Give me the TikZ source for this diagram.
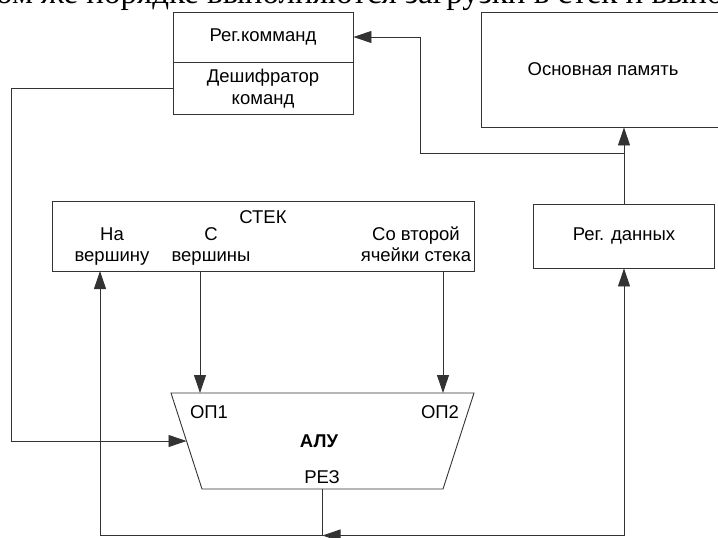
\documentclass[tikz,border=0pt]{standalone}
\usepackage{fontspec}
\setmainfont{Liberation Sans}
\newfontfamily\bodyserif{Liberation Serif}
\usetikzlibrary{arrows.meta,calc}

\begin{document}
\begin{tikzpicture}[x=1pt,y=-1pt,
    wire/.style={draw=black!80,line width=0.9pt},
    arr/.style={wire,-{Triangle[length=18pt,width=12pt]}},
    blk/.style={draw=black!80,line width=0.9pt,rectangle,inner sep=0pt,align=center},
    lbl/.style={inner sep=0pt,align=center},
    every node/.style={font=\fontsize{18.5}{21.5}\selectfont}]
\useasboundingbox (0,0) rectangle (718,538);
\clip (0,0) rectangle (718,538);

% running text of the page above the figure
\node[anchor=base west,inner sep=0pt,font=\bodyserif\fontsize{33}{38}\selectfont]
  (pagetext) at (-4,3) {ом же порядке выполняются загрузки в стек и выпо};

% command register and decoder
\node[blk,minimum width=180,minimum height=50] (regcmd) at (263,37) {Рег.комманд};
\node[blk,minimum width=180,minimum height=52] (decoder) at (263,88) {};
\node[lbl] (decodertext) at (263,89) {\strut Дешифратор\\команд\strut};

% main memory and data register
\node[blk,minimum width=244,minimum height=115] (mem) at (603,69.5) {Основная память};
\node[blk,minimum width=181,minimum height=64] (regdata) at (624,236) {Рег. данных};

% stack
\node[blk,minimum width=422,minimum height=70] (stack) at (263,236) {};
\node[lbl] (stacktitle) at (263,217) {СТЕК};
\node[lbl] (totop) at (112,246.5) {\strut На\\вершину\strut};
\node[lbl] (fromtop) at (211,246.5) {\strut С\\вершины\strut};
\node[lbl] (second) at (416,246.5) {\strut Со второй\\ячейки стека\strut};
\coordinate (stkin)  at (100,271);
\coordinate (stkout1) at (200,271);
\coordinate (stkout2) at (443,271);

% ALU: inverted trapezium
\coordinate (alutl) at (171,393);
\coordinate (alutr) at (474,393);
\coordinate (alubr) at (443,489);
\coordinate (alubl) at (202,489);
\draw[wire,line join=miter] (alutl) -- (alutr) -- (alubr) -- (alubl) -- cycle;
\coordinate (aluin)  at ($(alutl)!0.5!(alubl)$);
\coordinate (aluout) at (322.5,489);
\node[lbl,font=\bfseries\fontsize{18.5}{22}\selectfont] (alu) at (319,441) {АЛУ};
\node[lbl] (op1) at (209,412) {ОП1};
\node[lbl] (op2) at (440,412) {ОП2};
\node[lbl] (res) at (322,477) {РЕЗ};

% bus corners
\coordinate (junc) at (aluout |- 0,535.5);
\coordinate (busl) at (stkin |- 0,535.5);
\coordinate (busr) at (regdata.south |- 0,535.5);
\coordinate (tap)  at (regdata.north |- 0,153);
\coordinate (bend) at (420,153);

% connectors
\draw[arr] (regdata.north) -- (regdata.north |- mem.south);
\draw[arr] (tap) -- (bend) |- (regcmd.east);
\draw[arr] (decoder.west) -- ++(-161,0) |- (aluin);
\draw[arr] (stkout1) -- (stkout1 |- alutl);
\draw[arr] (stkout2) -- (stkout2 |- alutl);
\draw[wire] (aluout) -- (junc);
\draw[arr] (junc) -- (busl) -- (stkin);
\draw[arr] (busr) -- (junc);
\draw[arr] (busr) -- (regdata.south);
\end{tikzpicture}
\end{document}
